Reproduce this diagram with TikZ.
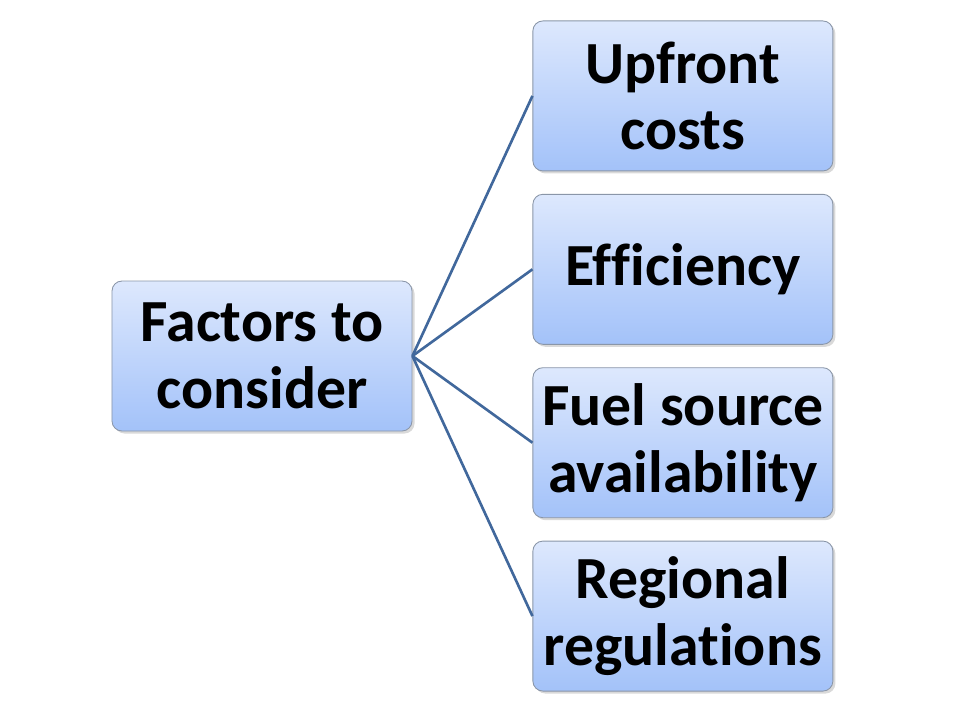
\documentclass[tikz,border=0pt]{standalone}
\usepackage{fontspec}
\setmainfont[Ligatures=NoCommon]{Carlito}
\usepackage{tikz}
\usetikzlibrary{positioning,shadows}
\definecolor{BoxTop}{HTML}{DDE8FD}
\definecolor{BoxBottom}{HTML}{A3C2F9}
\definecolor{BoxEdge}{HTML}{8A96A8}
\definecolor{LinkBlue}{HTML}{41689C}

\begin{document}
\begin{tikzpicture}[
    node distance=0.45cm,
    factor/.style={draw=BoxEdge,line width=0.5pt,rounded corners=2mm,
      minimum width=6cm,minimum height=3cm,inner sep=1pt,align=center,
      top color=BoxTop,bottom color=BoxBottom,
      font=\bfseries\fontsize{34}{38}\selectfont,
      drop shadow={shadow xshift=0.05cm,shadow yshift=-0.05cm,opacity=0.3}},
    link/.style={line width=1.5pt,draw=LinkBlue}
  ]
    \useasboundingbox (-5.24,-7.28) rectangle (13.96,7.12);
    \node[factor] (fac) {Factors to\\consider};
    \node[factor,above right=0.225cm and 2.4cm of fac.east] (eff) {Efficiency};
    \node[factor,above=of eff] (up) {Upfront\\costs};
    \node[factor,below=of eff] (fuel) {Fuel source\\availability};
    \node[factor,below=of fuel] (reg) {Regional\\regulations};
    \draw[link] (fac.east)--(up.west);\draw[link] (fac.east)--(eff.west);
    \draw[link] (fac.east)--(fuel.west);\draw[link] (fac.east)--(reg.west);
  \end{tikzpicture}
\end{document}
